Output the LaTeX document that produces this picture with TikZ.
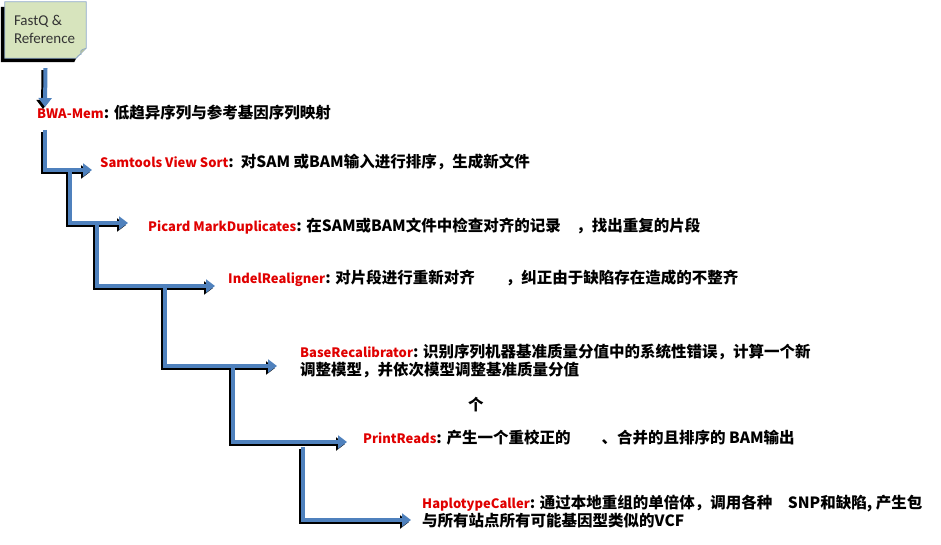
\documentclass[tikz,border=0pt]{standalone}
\usepackage{fontspec}
\setmainfont{Carlito}
\newfontfamily\cjk{Noto Sans CJK SC}
\usepackage{xcolor}
\usetikzlibrary{arrows.meta, positioning, calc}

\definecolor{flowblue}{HTML}{4F81BD}
\definecolor{notegreen}{HTML}{D7E4BD}
\definecolor{noteedge}{HTML}{8EA9C8}
\definecolor{tooltxt}{HTML}{E00000}
\newcommand{\tool}[1]{{\fontsize{13}{16}\selectfont\bfseries\color{tooltxt}#1}}

\tikzset{
  flow/.style={draw=flowblue, line width=4pt, line join=miter,
    -{Triangle[width=13pt,length=9pt]},
    preaction={draw=black, line width=4pt, -{Triangle[width=13pt,length=9pt]},
      transform canvas={shift={(-2pt,-2pt)}}}},
  steptext/.style={anchor=west, inner sep=0pt, align=left,
    font=\cjk\bfseries\fontsize{15.5}{18}\selectfont},
  notebox/.style={minimum width=81pt, minimum height=56pt, inner sep=0pt}
}

\begin{document}
\begin{tikzpicture}[x=1pt, y=-1pt]
\useasboundingbox (0,0) rectangle (941,545);

% input note
\node[notebox] (fastq) at (45.5,30) {};
\fill[black] ($(fastq.north west)+(-4pt,-5pt)$) -- ($(fastq.north west)+(0pt,-5pt)$)
  -- (fastq.south west) -- ($(fastq.south east)+(-10pt,0pt)$)
  -- ($(fastq.south east)+(-12pt,-4pt)$) -- ($(fastq.south west)+(-4pt,-4pt)$) -- cycle;
\draw[noteedge, fill=notegreen, line width=0.8pt] (fastq.north west) -- (fastq.north east)
  -- ($(fastq.south east)+(0pt,10pt)$) -- ($(fastq.south east)+(-10pt,0pt)$)
  -- (fastq.south west) -- cycle;
\draw[noteedge, fill=notegreen!85!black, line width=0.6pt] ($(fastq.south east)+(0pt,10pt)$)
  .. controls ($(fastq.south east)+(-6pt,8pt)$) .. ($(fastq.south east)+(-5pt,4pt)$)
  .. controls ($(fastq.south east)+(-8pt,3pt)$) .. ($(fastq.south east)+(-10pt,0pt)$);
\node[anchor=north west, inner sep=0pt, align=left,
  font=\fontsize{15}{18}\selectfont\color{black!80}]
  (fastqtxt) at ($(fastq.north west)+(9pt,-13pt)$) {FastQ \&\\Reference};

% pipeline steps
\node[steptext] (bwa) at (37,113) {\tool{BWA-Mem}: 低趋异序列与参考基因序列映射};
\node[steptext] (sort) at (100,162) {\tool{Samtools View Sort}:\ \ 对SAM 或BAM输入进行排序，生成新文件};
\node[steptext] (markdup) at (148,226) {\tool{Picard MarkDuplicates}: 在SAM或BAM文件中检查对齐的记录\quad ，找出重复的片段};
\node[steptext] (realign) at (228,278) {\tool{IndelRealigner}: 对片段进行重新对齐\qquad ，纠正由于缺陷存在造成的不整齐};
\node[steptext] (recal) at (300,361) {\tool{BaseRecalibrator}: 识别序列机器基准质量分值中的系统性错误，计算一个新\\调整模型，并依次模型调整基准质量分值};
\node[steptext] (stray) at (468,405) {个};
\node[steptext] (printreads) at (363,438) {\tool{PrintReads}: 产生一个重校正的\qquad 、合并的且排序的 BAM输出};
\node[steptext] (caller) at (422,512) {\tool{HaplotypeCaller}: 通过本地重组的单倍体，调用各种\quad SNP和缺陷, 产生包\\与所有站点所有可能基因型类似的VCF};

% branch points and arrow ends
\coordinate (t0) at (45,107);
\coordinate (s1) at (45,130);  \coordinate (t1) at (92,170);
\coordinate (s2) at (70,170);  \coordinate (t2) at (128,223);
\coordinate (s3) at (97,223);  \coordinate (t3) at (215,286);
\coordinate (s4) at (165,286); \coordinate (t4) at (277,366);
\coordinate (s5) at (233,366); \coordinate (t5) at (347,442);
\coordinate (s6) at (303,447); \coordinate (t6) at (411,520);

% connectors
\draw[flow] ([yshift=-10pt]fastq.south) -- (t0);
\draw[flow] (s1) |- (t1);
\draw[flow] (s2) |- (t2);
\draw[flow] (s3) |- (t3);
\draw[flow] (s4) |- (t4);
\draw[flow] (s5) |- (t5);
\draw[flow] (s6) |- (t6);
\end{tikzpicture}
\end{document}
